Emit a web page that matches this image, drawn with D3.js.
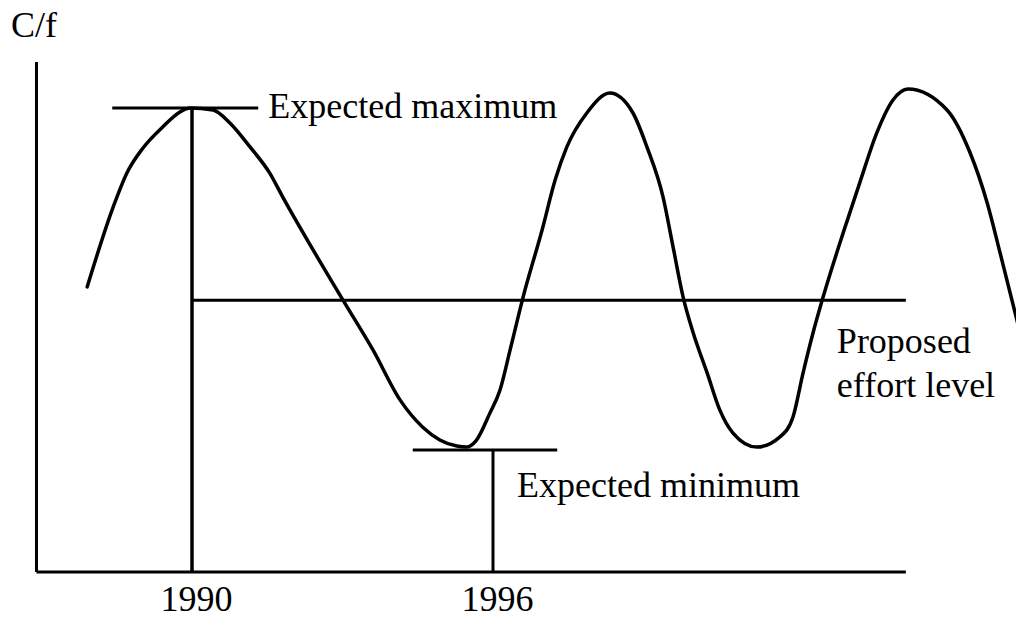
<!DOCTYPE html>
<html>
<head>
<meta charset="utf-8">
<script src="https://cdn.jsdelivr.net/npm/d3@7"></script>
<style>
  html, body { margin: 0; padding: 0; background: #fff; }
  svg { display: block; }
  text { font-family: "Liberation Serif", "Times New Roman", serif; fill: #000; }
</style>
</head>
<body>
<svg id="chart" width="1016" height="619"></svg>
<script>
// ---- Data (years on x, C/f in arbitrary units on y) ----
const years = [1987.91, 1988.43, 1988.70, 1989.02, 1989.42, 1989.76, 1989.96, 1990.42, 1990.76, 1991.16,
  1991.55, 1991.81, 1993.01, 1993.61, 1994.15, 1994.60, 1994.94, 1995.28, 1995.48, 1995.66,
  1995.94, 1996.14, 1996.34, 1996.60, 1996.98, 1997.24, 1997.47, 1997.87, 1998.33, 1998.79,
  1999.07, 1999.39, 1999.59, 1999.79, 1999.99, 2000.27, 2000.52, 2000.78, 2001.26, 2001.72,
  2001.98, 2002.18, 2002.38, 2002.58, 2002.98, 2003.31, 2003.65, 2003.97, 2004.27, 2005.05,
  2005.51, 2005.85, 2006.11, 2006.36, 2006.54];
const cpue = [5.59, 7.16, 7.82, 8.31, 8.73, 9.02, 9.10, 9.06, 8.80, 8.33,
  7.82, 7.35, 5.33, 4.35, 3.37, 2.84, 2.59, 2.47, 2.45, 2.57,
  3.12, 3.57, 4.35, 5.39, 6.71, 7.69, 8.33, 9.00, 9.39, 9.00,
  8.33, 7.35, 6.37, 5.39, 4.69, 3.90, 3.18, 2.73, 2.45, 2.65,
  3.04, 3.90, 4.69, 5.39, 6.65, 7.63, 8.61, 9.25, 9.47, 9.06,
  8.22, 7.24, 6.25, 5.27, 4.55];

const tickYears = [1990, 1996];
const tickLabels = ["1990", "1996"];

const xDomain = [1986.9, 2004.23];   // extent of the drawn x-axis
const yDomain = [0, 10];             // extent of the drawn y-axis

const expectedMax = 9.10;
const expectedMaxSpan = [1988.41, 1991.32];
const expectedMin = 2.39;
const expectedMinSpan = [1994.40, 1997.28];
const effortLevel = 5.33;
const effortSpan = [1990, 2004.23];

const yLabel = "C/f";
const maxLabel = "Expected maximum";
const minLabel = "Expected minimum";
const effortLabel = ["Proposed", "effort level"];

// ---- Scales ----
const x = d3.scaleLinear().domain([1990, 1996]).range([192, 493]);
const y = d3.scaleLinear().domain(yDomain).range([572, 62]);

const svg = d3.select("#chart");
const FS = 36;

// Axes lines
svg.append("line")
  .attr("x1", x(xDomain[0])).attr("y1", y(yDomain[1]))
  .attr("x2", x(xDomain[0])).attr("y2", y(0))
  .attr("stroke", "#000").attr("stroke-width", 3);
svg.append("line")
  .attr("x1", x(xDomain[0])).attr("y1", y(0))
  .attr("x2", x(xDomain[1])).attr("y2", y(0))
  .attr("stroke", "#000").attr("stroke-width", 3);

// Tick labels via d3 axis
const xAxis = d3.axisBottom(x).tickValues(tickYears)
  .tickFormat((d, i) => tickLabels[i]).tickSize(0).tickPadding(0);
const gx = svg.append("g").attr("transform", `translate(0,${y(0)})`).call(xAxis);
gx.select(".domain").remove();
gx.selectAll("text")
  .attr("font-family", "Liberation Serif, Times New Roman, serif")
  .attr("font-size", FS).attr("fill", "#000")
  .attr("dy", null).attr("y", 39).attr("dx", 4);

// Expected maximum marker
svg.append("line")
  .attr("x1", x(expectedMaxSpan[0])).attr("x2", x(expectedMaxSpan[1]))
  .attr("y1", y(expectedMax)).attr("y2", y(expectedMax))
  .attr("stroke", "#000").attr("stroke-width", 3);
svg.append("line")
  .attr("x1", x(1990)).attr("x2", x(1990))
  .attr("y1", y(expectedMax)).attr("y2", y(0))
  .attr("stroke", "#000").attr("stroke-width", 3.5);

// Effort level line
svg.append("line")
  .attr("x1", x(effortSpan[0])).attr("x2", x(effortSpan[1]))
  .attr("y1", y(effortLevel)).attr("y2", y(effortLevel))
  .attr("stroke", "#000").attr("stroke-width", 3);

// Expected minimum marker
svg.append("line")
  .attr("x1", x(expectedMinSpan[0])).attr("x2", x(expectedMinSpan[1]))
  .attr("y1", y(expectedMin)).attr("y2", y(expectedMin))
  .attr("stroke", "#000").attr("stroke-width", 3);
svg.append("line")
  .attr("x1", x(1996)).attr("x2", x(1996))
  .attr("y1", y(expectedMin)).attr("y2", y(0))
  .attr("stroke", "#000").attr("stroke-width", 3);

// Curve
const pts = years.map((d, i) => [d, cpue[i]]);
const line = d3.line().x(d => x(d[0])).y(d => y(d[1])).curve(d3.curveMonotoneX);
svg.append("path").datum(pts)
  .attr("d", line)
  .attr("fill", "none").attr("stroke", "#000")
  .attr("stroke-width", 3.5).attr("stroke-linejoin", "round").attr("stroke-linecap", "round");

// Labels
svg.append("text").attr("x", 11).attr("y", 37).attr("font-size", FS).text(yLabel);
svg.append("text").attr("x", x(expectedMaxSpan[1]) + 10).attr("y", y(expectedMax) + 10)
  .attr("font-size", FS).text(maxLabel);
svg.append("text").attr("x", x(1996) + 24).attr("y", y(expectedMin) + 47)
  .attr("font-size", FS).text(minLabel);
effortLabel.forEach((t, i) => {
  svg.append("text").attr("x", x(effortSpan[1]) - 69).attr("y", y(effortLevel) + 53 + i * 44)
    .attr("font-size", FS).text(t);
});
</script>
</body>
</html>
